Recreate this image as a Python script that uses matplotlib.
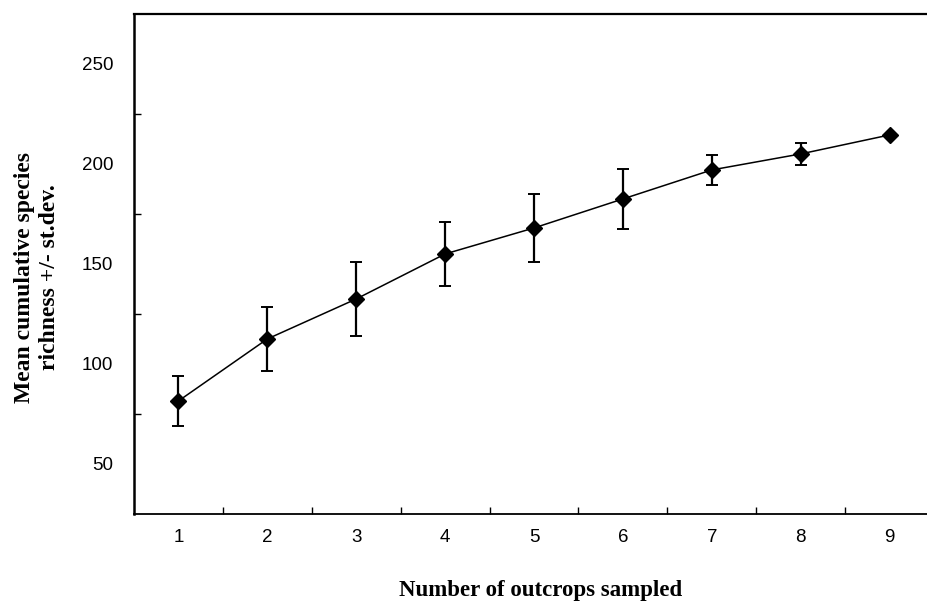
import numpy as np
import matplotlib
matplotlib.use('Agg')
import matplotlib.pyplot as plt

## Data
outcrops = [1, 2, 3, 4, 5, 6, 7, 8, 9]
mean_rich = [81.5, 112.5, 132.5, 155.0, 168.0, 182.5, 197.0, 205.0, 214.5]
sd_rich = [12.7, 16.2, 18.7, 15.9, 16.9, 14.8, 7.7, 5.7, 0.0]
ytick_labels = [50, 100, 150, 200, 250]
minor_y = [75, 125, 175, 225]

fig = plt.figure(figsize=(9.27, 6.04), dpi=100)
ax = fig.add_axes([0.1445, 0.149, 0.8555, 0.828])

ax.errorbar(outcrops, mean_rich, yerr=sd_rich, color='black', linewidth=1.1,
            elinewidth=1.6, capsize=4, capthick=1.4, marker='D', markersize=8,
            markerfacecolor='black', markeredgecolor='black')

ax.set_xlim(0.5, 9.42)
ax.set_ylim(25, 275)

# labels sit on integers, tick marks sit between them
ax.set_xticks(outcrops)
ax.set_xticklabels([str(i) for i in outcrops], fontsize=13.5, family='Liberation Sans')
ax.set_xticks([i + 0.5 for i in outcrops[:-1]], minor=True)
ax.set_yticks(ytick_labels)
ax.set_yticklabels([str(v) for v in ytick_labels], fontsize=13.5, family='Liberation Sans')
ax.set_yticks(minor_y, minor=True)
ax.tick_params(axis='both', which='major', length=0)
ax.tick_params(axis='x', which='major', pad=11)
ax.tick_params(axis='y', which='major', pad=15)
ax.tick_params(axis='both', which='minor', direction='in', length=5, width=1)

ax.spines['right'].set_visible(False)
ax.spines['left'].set_linewidth(1.8)
ax.spines['top'].set_linewidth(1.6)
ax.spines['bottom'].set_linewidth(1.3)

fig.text(541/927, 0.022, 'Number of outcrops sampled', fontsize=16.5, fontweight='bold',
         family='Liberation Serif', ha='center', va='center')
fig.text(37/927, 1 - 277/604, 'Mean cumulative species\nrichness +/- st.dev.',
         fontsize=17, fontweight='bold', family='Liberation Serif', rotation=90,
         ha='center', va='center', multialignment='center', linespacing=1.3)

plt.savefig('out.png', dpi=100)
plt.close()
